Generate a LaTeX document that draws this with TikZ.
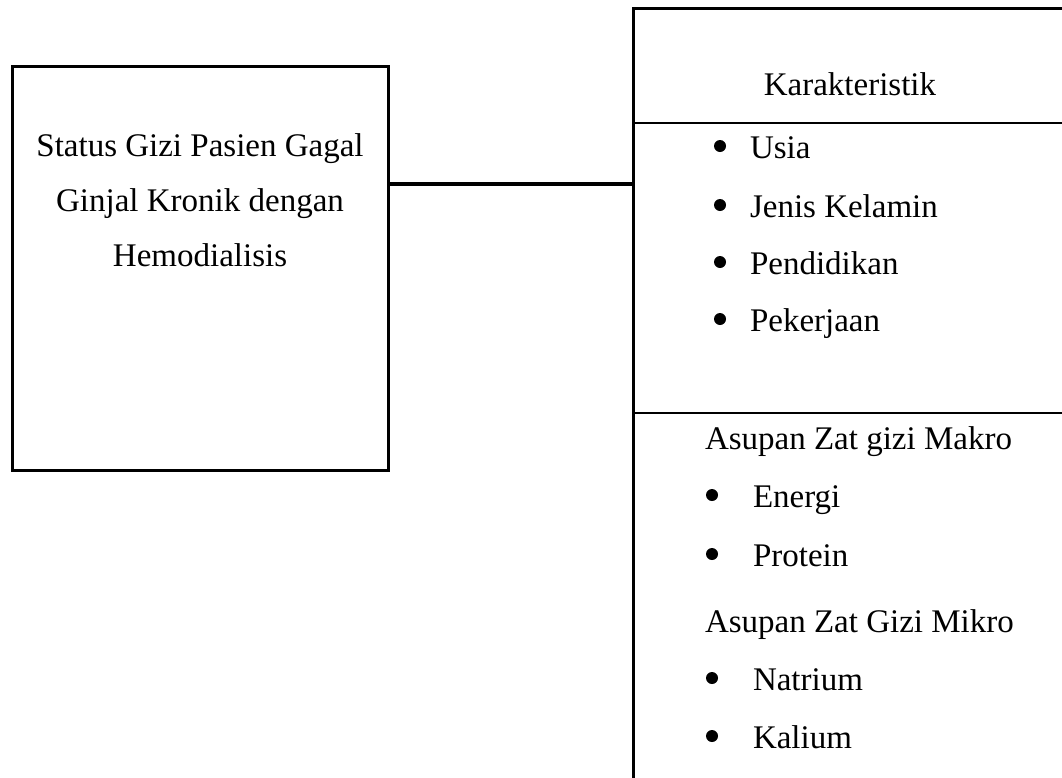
\documentclass[tikz,border=0pt]{standalone}
\usepackage{fontspec}
\setmainfont{Liberation Serif}
\begin{document}
\begin{tikzpicture}[x=1pt,y=-1pt,
  txt/.style={inner sep=0pt, outer sep=0pt, font=\fontsize{33}{40}\selectfont},
  item/.style={txt, anchor=base west},
  dot/.style={circle, fill=black, inner sep=0pt, minimum size=12pt},
  frame/.style={line width=3pt},
  divider/.style={line width=2pt},
  link/.style={line width=4pt}]
\useasboundingbox (0,0) rectangle (1062,777);
% left box
\node[draw, frame, outer sep=0pt, inner sep=0pt, minimum width=376pt, minimum height=404pt, anchor=north west] (lbox) at (12,66) {};
\node[txt, anchor=base] (l1) at (200,156) {Status Gizi Pasien Gagal};
\node[txt, anchor=base] (l2) at (200,211) {Ginjal Kronik dengan};
\node[txt, anchor=base] (l3) at (200,266) {Hemodialisis};
% right box
\coordinate (rtop) at (633,8);
\coordinate (rbot) at (633,777);
\coordinate (rtopr) at (1062,8);
\coordinate (d1l) at (633,123);
\coordinate (d1r) at (1062,123);
\coordinate (d2l) at (633,413);
\coordinate (d2r) at (1062,413);
\draw[frame, line cap=rect] (rbot) -- (rtop) -- (rtopr);
\draw[divider] (d1l) -- (d1r);
\draw[divider] (d2l) -- (d2r);
% connector
\coordinate (yc) at (0,184);
\draw[link] (lbox.east |- yc) -- (rtop |- yc);
% texts right
\node[txt, anchor=base] (kar) at (850,95) {Karakteristik};
\node[dot] (b1) at (720,146) {};
\node[item] (t1) at (750,158) {Usia};
\node[dot] (b2) at (720,205) {};
\node[item] (t2) at (750,217) {Jenis Kelamin};
\node[dot] (b3) at (720,262) {};
\node[item] (t3) at (750,274) {Pendidikan};
\node[dot] (b4) at (720,319) {};
\node[item] (t4) at (750,331) {Pekerjaan};
\node[item] (mak) at (705,449) {Asupan Zat gizi Makro};
\node[dot] (b5) at (712,495) {};
\node[item] (t5) at (753,507) {Energi};
\node[dot] (b6) at (712,554) {};
\node[item] (t6) at (753,566) {Protein};
\node[item] (mik) at (705,632) {Asupan Zat Gizi Mikro};
\node[dot] (b7) at (712,678) {};
\node[item] (t7) at (753,690) {Natrium};
\node[dot] (b8) at (712,736) {};
\node[item] (t8) at (753,748) {Kalium};
\end{tikzpicture}
\end{document}
